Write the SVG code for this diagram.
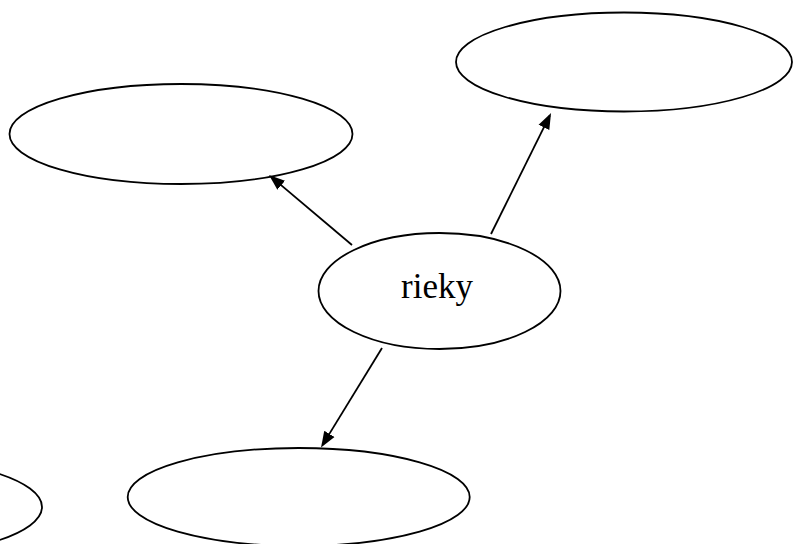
<svg xmlns="http://www.w3.org/2000/svg" width="793" height="544" viewBox="0 0 793 544">
  <style>
    .node { fill: #ffffff; stroke: #000000; stroke-width: 1.8; }
    .edge { stroke: #000000; stroke-width: 1.8; fill: none; }
    .label { font-family: "Liberation Serif", "Times New Roman", serif; font-size: 35px; fill: #000000; text-anchor: middle; }
  </style>
  <defs>
    <marker id="arrow" markerUnits="userSpaceOnUse" markerWidth="18" markerHeight="14" viewBox="0 0 18 14" refX="13" refY="7" orient="auto">
      <path d="M0,1 L16,7 L0,13 z" fill="#000000"/>
    </marker>
  </defs>
  <rect width="793" height="544" fill="#ffffff"/>
  <g id="node-top-right">
    <ellipse class="node" cx="624" cy="62" rx="168" ry="49.5"/>
  </g>
  <g id="node-top-left">
    <ellipse class="node" cx="181" cy="134" rx="171.5" ry="50"/>
  </g>
  <g id="node-rieky">
    <ellipse class="node" cx="439.5" cy="291" rx="121" ry="58"/>
    <text class="label" x="437" y="298">rieky</text>
  </g>
  <g id="node-bottom">
    <ellipse class="node" cx="298.7" cy="497" rx="171" ry="49"/>
  </g>
  <g id="node-bottom-left">
    <ellipse class="node" cx="-129" cy="507" rx="171" ry="50"/>
  </g>
  <g id="connectors">
    <line class="edge" x1="352" y1="245" x2="271.3" y2="176.9" marker-end="url(#arrow)"/>
    <line class="edge" x1="491" y1="234" x2="549.7" y2="115.7" marker-end="url(#arrow)"/>
    <line class="edge" x1="382" y1="348" x2="322.6" y2="444.9" marker-end="url(#arrow)"/>
  </g>
</svg>
